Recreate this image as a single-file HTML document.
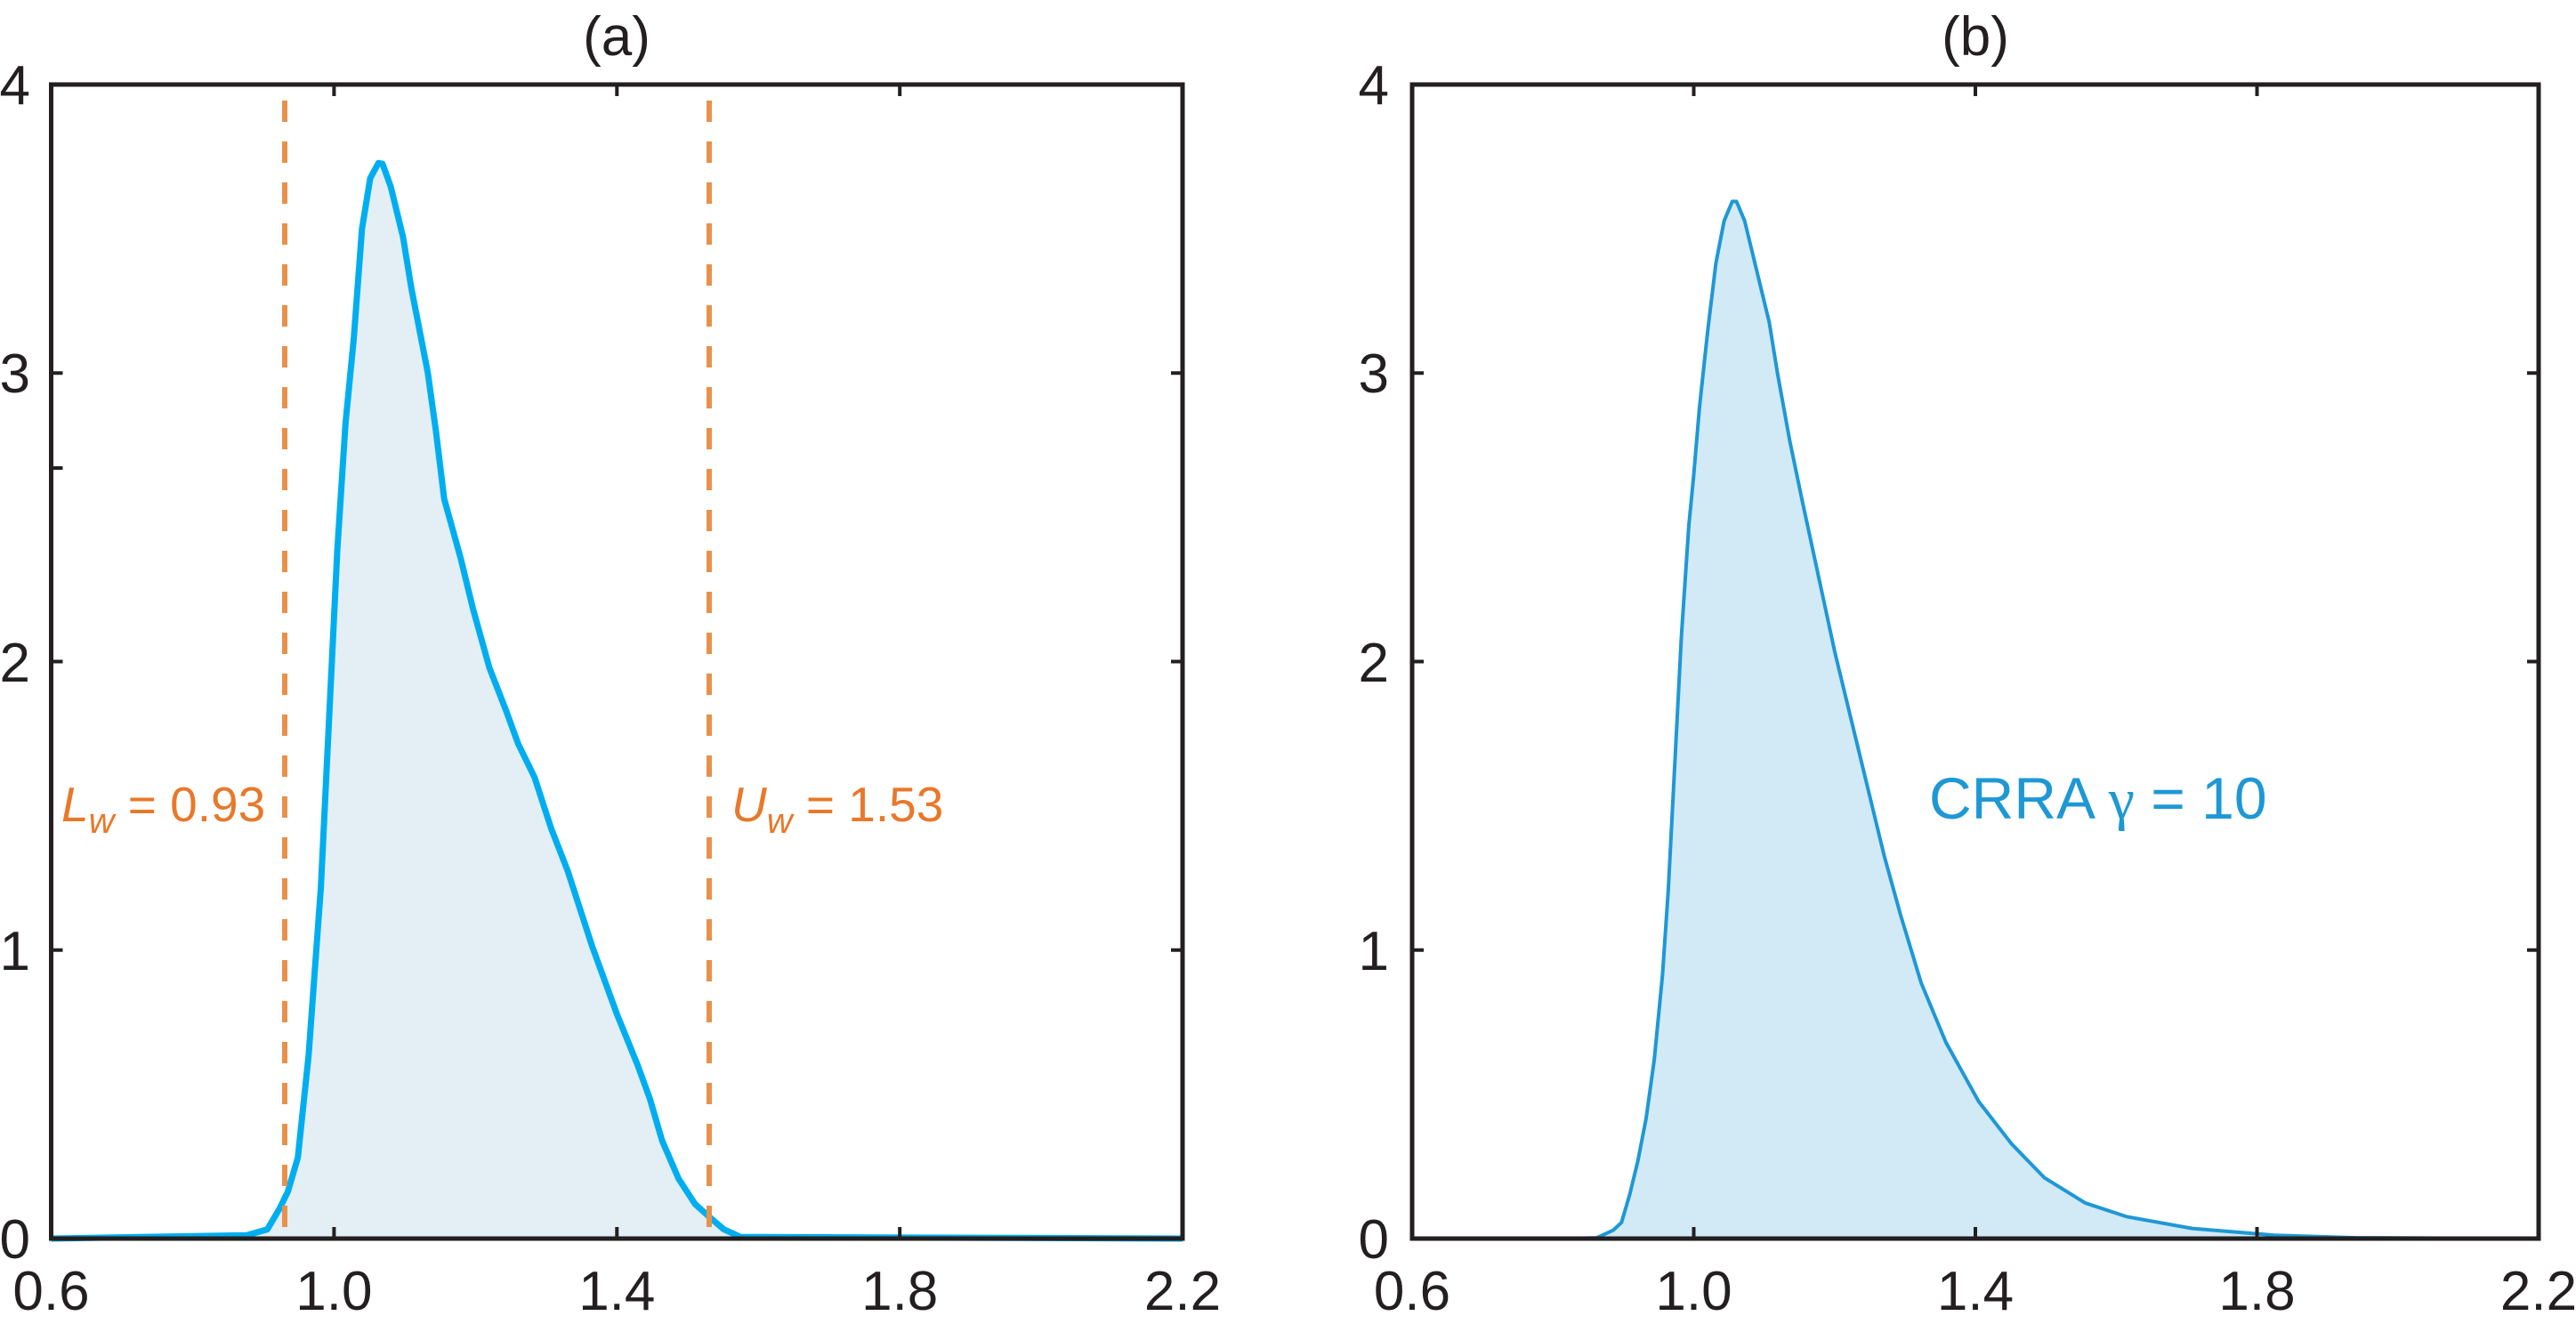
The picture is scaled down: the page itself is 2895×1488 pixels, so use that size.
<!DOCTYPE html>
<html><head><meta charset="utf-8"><style>
html,body{margin:0;padding:0;background:#fff;}
svg{display:block;}
text{font-family:"Liberation Sans",sans-serif;fill:#231f20;}
</style></head><body>
<svg width="2895" height="1488" viewBox="0 0 2895 1488" xmlns="http://www.w3.org/2000/svg">
<rect width="2895" height="1488" fill="#fff"/>
<g transform="matrix(0.9241,0,0,0.9488,0.206,1.07)">
<polygon fill="#e3eef5" stroke="none" points="62,1466 300,1462 325,1455 340,1430 350,1410 362,1370 375,1250 390,1050 400,850 410,650 420,500 430,400 440,270 450,210 460,192 465,193 475,220 490,280 500,340 510,390 520,440 530,510 540,590 560,660 575,720 595,790 615,840 630,880 650,920 670,980 690,1030 720,1120 750,1200 775,1260 790,1300 805,1350 825,1395 845,1425 862,1440 880,1455 900,1464 1438,1466"/>
<polyline fill="none" stroke="#00aeef" stroke-width="7" vector-effect="non-scaling-stroke" stroke-linejoin="round" points="62,1466 300,1462 325,1455 340,1430 350,1410 362,1370 375,1250 390,1050 400,850 410,650 420,500 430,400 440,270 450,210 460,192 465,193 475,220 490,280 500,340 510,390 520,440 530,510 540,590 560,660 575,720 595,790 615,840 630,880 650,920 670,980 690,1030 720,1120 750,1200 775,1260 790,1300 805,1350 825,1395 845,1425 862,1440 880,1455 900,1464 1438,1466"/>
</g>
<line x1="320" y1="113" x2="320" y2="1390" stroke="#e8914a" stroke-width="6" stroke-dasharray="24 22"/>
<line x1="797" y1="113" x2="797" y2="1390" stroke="#e8914a" stroke-width="6" stroke-dasharray="24 22"/>
<text x="69" y="923" font-size="55" style="fill:#e8782a"><tspan font-style="italic">L</tspan><tspan font-style="italic" font-size="40" dy="13">w</tspan><tspan dy="-13"> = 0.93</tspan></text>
<text x="822" y="923" font-size="55" style="fill:#e8782a"><tspan font-style="italic">U</tspan><tspan font-style="italic" font-size="40" dy="13">w</tspan><tspan dy="-13"> = 1.53</tspan></text>
<rect x="57.5" y="95" width="1271.5" height="1297" fill="none" stroke="#231f20" stroke-width="5"/>
<g stroke="#231f20" stroke-width="4">
<line x1="375.4" y1="95" x2="375.4" y2="108"/><line x1="693.3" y1="95" x2="693.3" y2="108"/><line x1="1011.2" y1="95" x2="1011.2" y2="108"/>
<line x1="375.4" y1="1392" x2="375.4" y2="1379"/><line x1="693.3" y1="1392" x2="693.3" y2="1379"/><line x1="1011.2" y1="1392" x2="1011.2" y2="1379"/>
<line x1="57.5" y1="1067.75" x2="70.5" y2="1067.75"/><line x1="57.5" y1="743.5" x2="70.5" y2="743.5"/><line x1="57.5" y1="419.25" x2="70.5" y2="419.25"/><line x1="57.5" y1="526" x2="70.5" y2="526"/>
<line x1="1329" y1="1067.75" x2="1316" y2="1067.75"/><line x1="1329" y1="743.5" x2="1316" y2="743.5"/><line x1="1329" y1="419.25" x2="1316" y2="419.25"/>
</g>
<g font-size="62" text-anchor="middle">
<text x="57.5" y="1472">0.6</text><text x="375.4" y="1472">1.0</text><text x="693.3" y="1472">1.4</text><text x="1011.2" y="1472">1.8</text><text x="1329" y="1472">2.2</text>
<text x="693" y="62">(a)</text>
<text x="2220" y="62">(b)</text>
<text x="1587" y="1472">0.6</text><text x="1903.5" y="1472">1.0</text><text x="2220" y="1472">1.4</text><text x="2536.5" y="1472">1.8</text><text x="2853" y="1472">2.2</text>
</g>
<g font-size="62" text-anchor="end">
<text x="34" y="1414">0</text><text x="34" y="1090">1</text><text x="34" y="766">2</text><text x="34" y="441">3</text><text x="34" y="117">4</text>
<text x="1561" y="1414">0</text><text x="1561" y="1090">1</text><text x="1561" y="766">2</text><text x="1561" y="441">3</text><text x="1561" y="117">4</text>
</g>
<g transform="matrix(0.9227,0,0,0.9516,1448.6,0.79)">
<polygon fill="#d2e9f6" stroke="none" points="335,1462 375,1461 395,1452 405,1443 415,1410 425,1370 435,1320 445,1250 455,1150 462,1050 470,900 478,750 487,620 493,560 500,480 510,390 520,310 530,260 540,237 545,237 555,260 570,320 585,380 595,440 610,520 625,590 645,680 665,770 685,850 705,930 725,1010 745,1080 770,1160 800,1230 840,1300 880,1350 920,1390 970,1420 1020,1436 1100,1450 1200,1458 1300,1461 1522,1462"/>
<polyline fill="none" stroke="#1e98d5" stroke-width="4" vector-effect="non-scaling-stroke" stroke-linejoin="round" points="335,1462 375,1461 395,1452 405,1443 415,1410 425,1370 435,1320 445,1250 455,1150 462,1050 470,900 478,750 487,620 493,560 500,480 510,390 520,310 530,260 540,237 545,237 555,260 570,320 585,380 595,440 610,520 625,590 645,680 665,770 685,850 705,930 725,1010 745,1080 770,1160 800,1230 840,1300 880,1350 920,1390 970,1420 1020,1436 1100,1450 1200,1458 1300,1461 1522,1462"/>
</g>
<text x="2168" y="920" font-size="66" style="fill:#1e98d5">CRRA <tspan font-family="Liberation Serif">γ</tspan> = 10</text>
<rect x="1587" y="95" width="1266" height="1297" fill="none" stroke="#231f20" stroke-width="5"/>
<g stroke="#231f20" stroke-width="4">
<line x1="1903.5" y1="95" x2="1903.5" y2="108"/><line x1="2220" y1="95" x2="2220" y2="108"/><line x1="2536.5" y1="95" x2="2536.5" y2="108"/>
<line x1="1903.5" y1="1392" x2="1903.5" y2="1379"/><line x1="2220" y1="1392" x2="2220" y2="1379"/><line x1="2536.5" y1="1392" x2="2536.5" y2="1379"/>
<line x1="1587" y1="1067.75" x2="1600" y2="1067.75"/><line x1="1587" y1="743.5" x2="1600" y2="743.5"/><line x1="1587" y1="419.25" x2="1600" y2="419.25"/>
<line x1="2853" y1="1067.75" x2="2840" y2="1067.75"/><line x1="2853" y1="743.5" x2="2840" y2="743.5"/><line x1="2853" y1="419.25" x2="2840" y2="419.25"/>
</g>
</svg>
</body></html>
